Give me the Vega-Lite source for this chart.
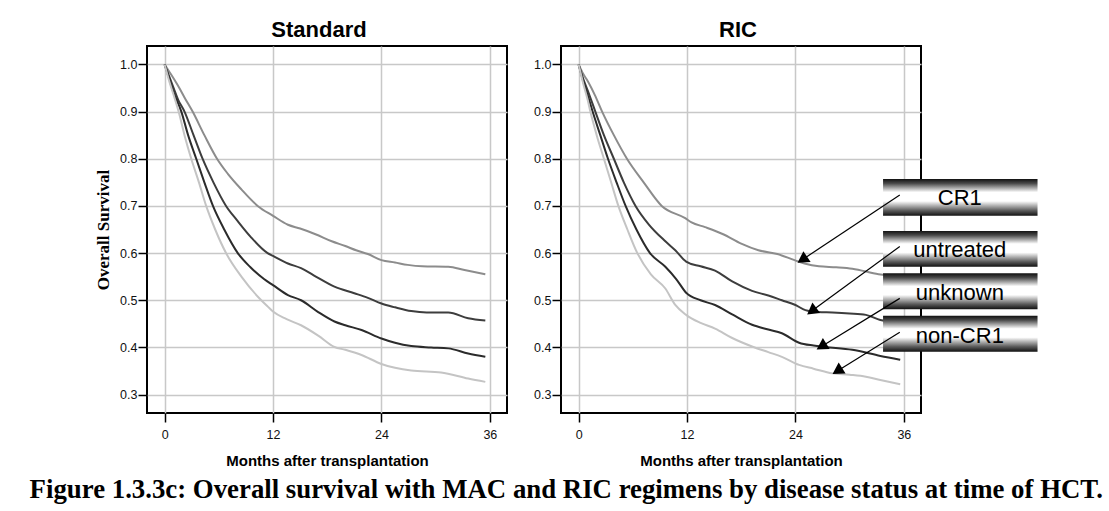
{
  "$schema": "https://vega.github.io/schema/vega-lite/v6.json",
  "background": "white",
  "padding": {"left": 29, "top": 18, "right": 5, "bottom": 5},
  "spacing": 24,
  "title": {
    "text": "Figure 1.3.3c: Overall survival with MAC and RIC regimens by disease status at time of HCT.",
    "orient": "bottom",
    "anchor": "start",
    "frame": "bounds",
    "dx": -63.5,
    "offset": 7,
    "font": "Liberation Serif",
    "fontSize": 26.8,
    "fontWeight": "bold",
    "color": "black"
  },
  "datasets": {
    "standard": [
      {"month": 0, "survival": 1.0, "status": "CR1"},
      {"month": 0.5, "survival": 0.985, "status": "CR1"},
      {"month": 1, "survival": 0.97, "status": "CR1"},
      {"month": 1.66, "survival": 0.949, "status": "CR1"},
      {"month": 2.2, "survival": 0.93, "status": "CR1"},
      {"month": 3.1, "survival": 0.9, "status": "CR1"},
      {"month": 4.4, "survival": 0.85, "status": "CR1"},
      {"month": 5.8, "survival": 0.8, "status": "CR1"},
      {"month": 7, "survival": 0.768, "status": "CR1"},
      {"month": 8.5, "survival": 0.735, "status": "CR1"},
      {"month": 10.3, "survival": 0.7, "status": "CR1"},
      {"month": 12, "survival": 0.679, "status": "CR1"},
      {"month": 13.65, "survival": 0.66, "status": "CR1"},
      {"month": 15, "survival": 0.652, "status": "CR1"},
      {"month": 16.7, "survival": 0.64, "status": "CR1"},
      {"month": 18.5, "survival": 0.625, "status": "CR1"},
      {"month": 20, "survival": 0.615, "status": "CR1"},
      {"month": 21.2, "survival": 0.606, "status": "CR1"},
      {"month": 22.5, "survival": 0.598, "status": "CR1"},
      {"month": 24, "survival": 0.585, "status": "CR1"},
      {"month": 25.5, "survival": 0.58, "status": "CR1"},
      {"month": 26.9, "survival": 0.575, "status": "CR1"},
      {"month": 28.5, "survival": 0.572, "status": "CR1"},
      {"month": 31.4, "survival": 0.571, "status": "CR1"},
      {"month": 33.2, "survival": 0.564, "status": "CR1"},
      {"month": 35.5, "survival": 0.555, "status": "CR1"},

      {"month": 0, "survival": 1.0, "status": "untreated"},
      {"month": 0.5, "survival": 0.975, "status": "untreated"},
      {"month": 1, "survival": 0.95, "status": "untreated"},
      {"month": 1.5, "survival": 0.925, "status": "untreated"},
      {"month": 2.2, "survival": 0.9, "status": "untreated"},
      {"month": 3.2, "survival": 0.85, "status": "untreated"},
      {"month": 4.2, "survival": 0.8, "status": "untreated"},
      {"month": 5.4, "survival": 0.75, "status": "untreated"},
      {"month": 6.8, "survival": 0.7, "status": "untreated"},
      {"month": 8, "survival": 0.67, "status": "untreated"},
      {"month": 9.5, "survival": 0.635, "status": "untreated"},
      {"month": 11.4, "survival": 0.6, "status": "untreated"},
      {"month": 12, "survival": 0.594, "status": "untreated"},
      {"month": 13.65, "survival": 0.578, "status": "untreated"},
      {"month": 15.1, "survival": 0.568, "status": "untreated"},
      {"month": 16.5, "survival": 0.553, "status": "untreated"},
      {"month": 18.8, "survival": 0.529, "status": "untreated"},
      {"month": 21, "survival": 0.515, "status": "untreated"},
      {"month": 22.5, "survival": 0.505, "status": "untreated"},
      {"month": 24, "survival": 0.493, "status": "untreated"},
      {"month": 25.5, "survival": 0.485, "status": "untreated"},
      {"month": 27.3, "survival": 0.477, "status": "untreated"},
      {"month": 29, "survival": 0.474, "status": "untreated"},
      {"month": 31.4, "survival": 0.474, "status": "untreated"},
      {"month": 33.6, "survival": 0.462, "status": "untreated"},
      {"month": 35.5, "survival": 0.457, "status": "untreated"},

      {"month": 0, "survival": 1.0, "status": "unknown"},
      {"month": 0.5, "survival": 0.97, "status": "unknown"},
      {"month": 1, "survival": 0.94, "status": "unknown"},
      {"month": 1.85, "survival": 0.9, "status": "unknown"},
      {"month": 2.6, "survival": 0.85, "status": "unknown"},
      {"month": 3.5, "survival": 0.8, "status": "unknown"},
      {"month": 4.4, "survival": 0.75, "status": "unknown"},
      {"month": 5.35, "survival": 0.7, "status": "unknown"},
      {"month": 6.6, "survival": 0.65, "status": "unknown"},
      {"month": 8.1, "survival": 0.6, "status": "unknown"},
      {"month": 9.5, "survival": 0.57, "status": "unknown"},
      {"month": 11, "survival": 0.545, "status": "unknown"},
      {"month": 12, "survival": 0.532, "status": "unknown"},
      {"month": 13.65, "survival": 0.511, "status": "unknown"},
      {"month": 15.1, "survival": 0.5, "status": "unknown"},
      {"month": 17, "survival": 0.475, "status": "unknown"},
      {"month": 18.8, "survival": 0.455, "status": "unknown"},
      {"month": 20, "survival": 0.447, "status": "unknown"},
      {"month": 21.8, "survival": 0.437, "status": "unknown"},
      {"month": 24, "survival": 0.419, "status": "unknown"},
      {"month": 25.5, "survival": 0.41, "status": "unknown"},
      {"month": 27.3, "survival": 0.403, "status": "unknown"},
      {"month": 29.5, "survival": 0.4, "status": "unknown"},
      {"month": 31.4, "survival": 0.398, "status": "unknown"},
      {"month": 33.6, "survival": 0.387, "status": "unknown"},
      {"month": 35.5, "survival": 0.38, "status": "unknown"},

      {"month": 0, "survival": 1.0, "status": "non-CR1"},
      {"month": 0.5, "survival": 0.965, "status": "non-CR1"},
      {"month": 1, "survival": 0.935, "status": "non-CR1"},
      {"month": 1.55, "survival": 0.9, "status": "non-CR1"},
      {"month": 2.2, "survival": 0.85, "status": "non-CR1"},
      {"month": 2.95, "survival": 0.8, "status": "non-CR1"},
      {"month": 3.8, "survival": 0.75, "status": "non-CR1"},
      {"month": 4.6, "survival": 0.7, "status": "non-CR1"},
      {"month": 5.6, "survival": 0.65, "status": "non-CR1"},
      {"month": 6.8, "survival": 0.6, "status": "non-CR1"},
      {"month": 8.5, "survival": 0.55, "status": "non-CR1"},
      {"month": 10.7, "survival": 0.5, "status": "non-CR1"},
      {"month": 11.45, "survival": 0.486, "status": "non-CR1"},
      {"month": 12, "survival": 0.476, "status": "non-CR1"},
      {"month": 13.5, "survival": 0.46, "status": "non-CR1"},
      {"month": 15.1, "survival": 0.447, "status": "non-CR1"},
      {"month": 17, "survival": 0.425, "status": "non-CR1"},
      {"month": 18.8, "survival": 0.401, "status": "non-CR1"},
      {"month": 20, "survival": 0.395, "status": "non-CR1"},
      {"month": 21.8, "survival": 0.384, "status": "non-CR1"},
      {"month": 24, "survival": 0.365, "status": "non-CR1"},
      {"month": 25.5, "survival": 0.357, "status": "non-CR1"},
      {"month": 27.3, "survival": 0.351, "status": "non-CR1"},
      {"month": 30.6, "survival": 0.347, "status": "non-CR1"},
      {"month": 33.6, "survival": 0.334, "status": "non-CR1"},
      {"month": 35.5, "survival": 0.327, "status": "non-CR1"}
    ],
    "ric": [
      {"month": 0, "survival": 1.0, "status": "CR1"},
      {"month": 0.5, "survival": 0.98, "status": "CR1"},
      {"month": 1, "survival": 0.965, "status": "CR1"},
      {"month": 1.8, "survival": 0.935, "status": "CR1"},
      {"month": 2.6, "survival": 0.9, "status": "CR1"},
      {"month": 3.9, "survival": 0.85, "status": "CR1"},
      {"month": 5.35, "survival": 0.8, "status": "CR1"},
      {"month": 7.2, "survival": 0.75, "status": "CR1"},
      {"month": 9.2, "survival": 0.7, "status": "CR1"},
      {"month": 11.8, "survival": 0.674, "status": "CR1"},
      {"month": 12.5, "survival": 0.665, "status": "CR1"},
      {"month": 14, "survival": 0.655, "status": "CR1"},
      {"month": 16, "survival": 0.64, "status": "CR1"},
      {"month": 18, "survival": 0.62, "status": "CR1"},
      {"month": 19.9, "survival": 0.606, "status": "CR1"},
      {"month": 22, "survival": 0.598, "status": "CR1"},
      {"month": 23.9, "survival": 0.585, "status": "CR1"},
      {"month": 25, "survival": 0.578, "status": "CR1"},
      {"month": 26.6, "survival": 0.572, "status": "CR1"},
      {"month": 28.5, "survival": 0.57, "status": "CR1"},
      {"month": 30.3, "survival": 0.567, "status": "CR1"},
      {"month": 33.2, "survival": 0.555, "status": "CR1"},
      {"month": 35.6, "survival": 0.55, "status": "CR1"},

      {"month": 0, "survival": 1.0, "status": "untreated"},
      {"month": 0.5, "survival": 0.97, "status": "untreated"},
      {"month": 1, "survival": 0.945, "status": "untreated"},
      {"month": 1.85, "survival": 0.9, "status": "untreated"},
      {"month": 2.8, "survival": 0.85, "status": "untreated"},
      {"month": 3.9, "survival": 0.8, "status": "untreated"},
      {"month": 5, "survival": 0.75, "status": "untreated"},
      {"month": 6.3, "survival": 0.7, "status": "untreated"},
      {"month": 7.8, "survival": 0.66, "status": "untreated"},
      {"month": 9.6, "survival": 0.625, "status": "untreated"},
      {"month": 10.7, "survival": 0.606, "status": "untreated"},
      {"month": 11.9, "survival": 0.582, "status": "untreated"},
      {"month": 13.5, "survival": 0.572, "status": "untreated"},
      {"month": 15.1, "survival": 0.563, "status": "untreated"},
      {"month": 17, "survival": 0.54, "status": "untreated"},
      {"month": 19.2, "survival": 0.52, "status": "untreated"},
      {"month": 21, "survival": 0.51, "status": "untreated"},
      {"month": 22.5, "survival": 0.5, "status": "untreated"},
      {"month": 24, "survival": 0.49, "status": "untreated"},
      {"month": 25.1, "survival": 0.479, "status": "untreated"},
      {"month": 26.5, "survival": 0.475, "status": "untreated"},
      {"month": 28.1, "survival": 0.474, "status": "untreated"},
      {"month": 30, "survival": 0.472, "status": "untreated"},
      {"month": 31.8, "survival": 0.469, "status": "untreated"},
      {"month": 33.4, "survival": 0.458, "status": "untreated"},
      {"month": 35.6, "survival": 0.452, "status": "untreated"},

      {"month": 0, "survival": 1.0, "status": "unknown"},
      {"month": 0.5, "survival": 0.965, "status": "unknown"},
      {"month": 1, "survival": 0.935, "status": "unknown"},
      {"month": 1.55, "survival": 0.9, "status": "unknown"},
      {"month": 2.4, "survival": 0.85, "status": "unknown"},
      {"month": 3.25, "survival": 0.8, "status": "unknown"},
      {"month": 4.2, "survival": 0.75, "status": "unknown"},
      {"month": 5.2, "survival": 0.7, "status": "unknown"},
      {"month": 6.4, "survival": 0.65, "status": "unknown"},
      {"month": 7.9, "survival": 0.6, "status": "unknown"},
      {"month": 9.6, "survival": 0.571, "status": "unknown"},
      {"month": 10.8, "survival": 0.545, "status": "unknown"},
      {"month": 11.9, "survival": 0.516, "status": "unknown"},
      {"month": 13.5, "survival": 0.5, "status": "unknown"},
      {"month": 15.1, "survival": 0.49, "status": "unknown"},
      {"month": 17, "survival": 0.47, "status": "unknown"},
      {"month": 19.2, "survival": 0.448, "status": "unknown"},
      {"month": 21, "survival": 0.438, "status": "unknown"},
      {"month": 22.5, "survival": 0.43, "status": "unknown"},
      {"month": 24.4, "survival": 0.41, "status": "unknown"},
      {"month": 26, "survival": 0.404, "status": "unknown"},
      {"month": 27.3, "survival": 0.401, "status": "unknown"},
      {"month": 30.3, "survival": 0.395, "status": "unknown"},
      {"month": 33.4, "survival": 0.382, "status": "unknown"},
      {"month": 35.6, "survival": 0.374, "status": "unknown"},

      {"month": 0, "survival": 1.0, "status": "non-CR1"},
      {"month": 0.5, "survival": 0.96, "status": "non-CR1"},
      {"month": 1, "survival": 0.925, "status": "non-CR1"},
      {"month": 1.3, "survival": 0.9, "status": "non-CR1"},
      {"month": 2, "survival": 0.85, "status": "non-CR1"},
      {"month": 2.8, "survival": 0.8, "status": "non-CR1"},
      {"month": 3.6, "survival": 0.75, "status": "non-CR1"},
      {"month": 4.4, "survival": 0.7, "status": "non-CR1"},
      {"month": 5.4, "survival": 0.65, "status": "non-CR1"},
      {"month": 6.5, "survival": 0.6, "status": "non-CR1"},
      {"month": 8, "survival": 0.555, "status": "non-CR1"},
      {"month": 9.6, "survival": 0.525, "status": "non-CR1"},
      {"month": 10.7, "survival": 0.49, "status": "non-CR1"},
      {"month": 11.9, "survival": 0.469, "status": "non-CR1"},
      {"month": 13.5, "survival": 0.452, "status": "non-CR1"},
      {"month": 15.1, "survival": 0.44, "status": "non-CR1"},
      {"month": 17, "survival": 0.42, "status": "non-CR1"},
      {"month": 19.2, "survival": 0.402, "status": "non-CR1"},
      {"month": 21, "survival": 0.39, "status": "non-CR1"},
      {"month": 22.5, "survival": 0.38, "status": "non-CR1"},
      {"month": 24.4, "survival": 0.363, "status": "non-CR1"},
      {"month": 26, "survival": 0.355, "status": "non-CR1"},
      {"month": 28.1, "survival": 0.345, "status": "non-CR1"},
      {"month": 30, "survival": 0.342, "status": "non-CR1"},
      {"month": 31.8, "survival": 0.338, "status": "non-CR1"},
      {"month": 33.4, "survival": 0.331, "status": "non-CR1"},
      {"month": 35.6, "survival": 0.322, "status": "non-CR1"}
    ],
    "labels": [
      {"status": "CR1", "x_lo": 33.7, "x_hi": 50.8, "y_lo": 0.679, "y_hi": 0.757, "label_x": 42.2, "label_y": 0.716},
      {"status": "untreated", "x_lo": 33.7, "x_hi": 50.8, "y_lo": 0.571, "y_hi": 0.647, "label_x": 42.2, "label_y": 0.607},
      {"status": "unknown", "x_lo": 33.7, "x_hi": 50.8, "y_lo": 0.481, "y_hi": 0.557, "label_x": 42.2, "label_y": 0.515},
      {"status": "non-CR1", "x_lo": 33.7, "x_hi": 50.8, "y_lo": 0.391, "y_hi": 0.467, "label_x": 42.2, "label_y": 0.425}
    ],
    "arrows": [
      {"status": "CR1", "from_x": 35.55, "from_y": 0.723, "to_x": 24.76, "to_y": 0.586, "angle": 236.3},
      {"status": "untreated", "from_x": 35.55, "from_y": 0.614, "to_x": 25.8, "to_y": 0.477, "angle": 233.8},
      {"status": "unknown", "from_x": 35.55, "from_y": 0.504, "to_x": 26.88, "to_y": 0.402, "angle": 238.5},
      {"status": "non-CR1", "from_x": 35.55, "from_y": 0.432, "to_x": 28.64, "to_y": 0.35, "angle": 237.9}
    ]
  },
  "hconcat": [
    {
      "width": 360,
      "height": 367,
      "title": {"text": "Standard", "frame": "group", "anchor": "middle", "dx": -8},
      "data": {"name": "standard"},
      "mark": {"type": "line", "strokeWidth": 2, "interpolate": "monotone", "clip": true},
      "encoding": {
        "x": {
          "field": "month", "type": "quantitative",
          "scale": {"domain": [-1.95, 37.9], "nice": false, "zero": false},
          "axis": {"values": [0, 12, 24, 36], "title": "Months after transplantation"}
        },
        "y": {
          "field": "survival", "type": "quantitative",
          "scale": {"domain": [0.261, 1.039], "nice": false, "zero": false},
          "axis": {"values": [0.3, 0.4, 0.5, 0.6, 0.7, 0.8, 0.9, 1.0], "format": ".1f", "title": "Overall Survival",
                   "titleFont": "Liberation Serif", "titleFontSize": 17, "titlePadding": 7.5}
        },
        "color": {
          "field": "status", "type": "nominal", "legend": null,
          "scale": {"domain": ["CR1", "untreated", "unknown", "non-CR1"], "range": ["#8c8c8c", "#3d3d3d", "#2b2b2b", "#c4c4c4"]}
        }
      }
    },
    {
      "width": 360,
      "height": 367,
      "title": {"text": "RIC", "frame": "group", "anchor": "middle", "dx": -3},
      "layer": [
        {
          "data": {"name": "ric"},
          "mark": {"type": "line", "strokeWidth": 2, "interpolate": "monotone", "clip": true},
          "encoding": {
            "x": {
              "field": "month", "type": "quantitative",
              "scale": {"domain": [-1.95, 37.9], "nice": false, "zero": false},
              "axis": {"values": [0, 12, 24, 36], "title": "Months after transplantation"}
            },
            "y": {
              "field": "survival", "type": "quantitative",
              "scale": {"domain": [0.261, 1.039], "nice": false, "zero": false},
              "axis": {"values": [0.3, 0.4, 0.5, 0.6, 0.7, 0.8, 0.9, 1.0], "format": ".1f", "title": null}
            },
            "color": {
              "field": "status", "type": "nominal", "legend": null,
              "scale": {"domain": ["CR1", "untreated", "unknown", "non-CR1"], "range": ["#8c8c8c", "#3d3d3d", "#2b2b2b", "#c4c4c4"]}
            }
          }
        },
        {
          "data": {"name": "labels"},
          "mark": {
            "type": "rect",
            "clip": false,
            "fill": {
              "gradient": "linear", "x1": 0, "y1": 0, "x2": 0, "y2": 1,
              "stops": [
                {"offset": 0, "color": "#111111"},
                {"offset": 0.12, "color": "#4a4a4a"},
                {"offset": 0.36, "color": "#ffffff"},
                {"offset": 0.6, "color": "#ffffff"},
                {"offset": 0.86, "color": "#5a5a5a"},
                {"offset": 1, "color": "#111111"}
              ]
            }
          },
          "encoding": {
            "x": {"field": "x_lo", "type": "quantitative"},
            "x2": {"field": "x_hi"},
            "y": {"field": "y_lo", "type": "quantitative"},
            "y2": {"field": "y_hi"}
          }
        },
        {
          "data": {"name": "arrows"},
          "mark": {"type": "rule", "color": "black", "strokeWidth": 1.2, "clip": false},
          "encoding": {
            "x": {"field": "from_x", "type": "quantitative"},
            "y": {"field": "from_y", "type": "quantitative"},
            "x2": {"field": "to_x"},
            "y2": {"field": "to_y"}
          }
        },
        {
          "data": {"name": "arrows"},
          "mark": {"type": "point", "shape": "triangle-up", "filled": true, "color": "black", "opacity": 1, "size": 170, "clip": false},
          "encoding": {
            "x": {"field": "to_x", "type": "quantitative"},
            "y": {"field": "to_y", "type": "quantitative"},
            "angle": {"field": "angle", "type": "quantitative", "scale": null}
          }
        },
        {
          "data": {"name": "labels"},
          "mark": {"type": "text", "font": "Liberation Sans", "fontSize": 22, "color": "black", "align": "center", "baseline": "middle", "clip": false},
          "encoding": {
            "x": {"field": "label_x", "type": "quantitative"},
            "y": {"field": "label_y", "type": "quantitative"},
            "text": {"field": "status", "type": "nominal"}
          }
        }
      ]
    }
  ],
  "config": {
    "view": {"stroke": "black", "strokeWidth": 2, "fill": "white"},
    "title": {"font": "Liberation Sans", "fontSize": 22, "fontWeight": "bold", "color": "black", "offset": 4},
    "axis": {
      "grid": true,
      "gridColor": "#c8c8c8",
      "gridWidth": 1.5,
      "domain": false,
      "ticks": true,
      "tickColor": "black",
      "tickWidth": 1.5,
      "tickSize": 9,
      "labelFont": "Liberation Sans",
      "labelFontSize": 12.5,
      "labelColor": "#111111",
      "titleFont": "Liberation Sans",
      "titleFontWeight": "bold",
      "titleColor": "black"
    },
    "axisY": {"labelPadding": 1},
    "axisX": {"labelPadding": 6, "titleFontSize": 15, "titlePadding": 13}
  }
}
